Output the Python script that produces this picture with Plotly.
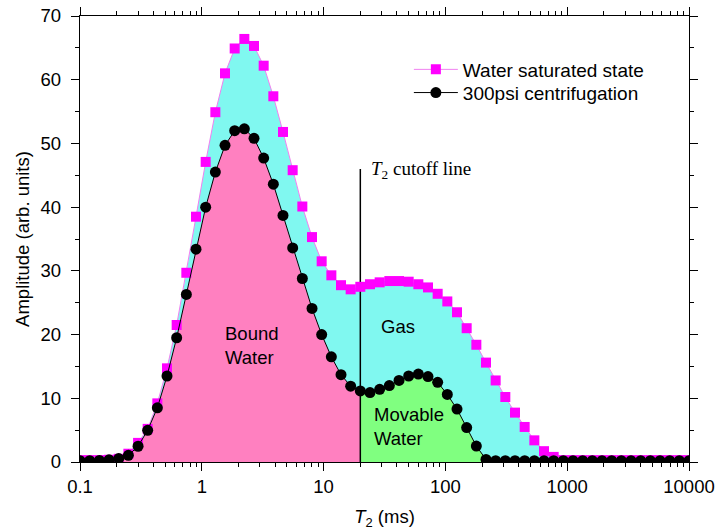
import plotly.graph_objects as go
import math

# T2 relaxation bins (ms), 64 log-spaced bins
t2_ms = [0.1, 0.1201, 0.1442, 0.1731, 0.2079, 0.2496, 0.2997, 0.3594, 0.4315, 0.5180,
         0.6217, 0.7465, 0.8963, 1.076, 1.292, 1.551, 1.862, 2.235, 2.683, 3.221,
         3.866, 4.642, 5.573, 6.691, 8.033, 9.641, 11.58, 13.90, 16.68, 20.02,
         24.04, 28.86, 34.65, 41.60, 49.94, 59.95, 71.97, 86.41, 103.7, 124.5,
         149.5, 179.5, 215.4, 258.6, 310.5, 372.8, 447.5, 537.4, 645.2, 774.3,
         929.5, 1116, 1340, 1608, 1931, 2318, 2783, 3341, 4011, 4815,
         5780, 6939, 8329, 10000]

# Water saturated state amplitude
saturated = [0.3, 0.3, 0.3, 0.35, 0.5, 1.3, 3.0, 5.2, 9.2, 14.7,
             21.5, 29.7, 38.5, 47.1, 54.9, 61.0, 64.9, 66.4, 65.3, 62.2,
             57.4, 51.8, 45.8, 40.1, 35.3, 31.5, 29.3, 27.75, 27.1, 27.5,
             27.9, 28.2, 28.4, 28.4, 28.3, 27.9, 27.4, 26.4, 25.2, 23.5,
             21.0, 18.4, 15.6, 12.8, 10.2, 7.75, 5.5, 3.4, 1.7, 0.8,
             0.3, 0.3, 0.3, 0.3, 0.3, 0.3, 0.3, 0.3, 0.3, 0.3,
             0.3, 0.3, 0.3, 0.3]

# 300psi centrifugation amplitude
centrifuged = [0.2, 0.2, 0.25, 0.35, 0.53, 1.05, 2.47, 4.98, 8.5, 13.5,
               19.5, 26.3, 33.4, 40.0, 45.5, 49.7, 52.0, 52.3, 50.8, 47.7,
               43.6, 38.7, 33.6, 28.8, 24.1, 20.0, 16.5, 13.7, 11.9, 11.15,
               10.9, 11.4, 12.0, 12.8, 13.5, 13.8, 13.4, 12.5, 10.6, 8.3,
               5.4, 2.5, 0.4, 0.2, 0.2, 0.2, 0.2, 0.2, 0.2, 0.2,
               0.2, 0.2, 0.2, 0.2, 0.2, 0.2, 0.2, 0.2, 0.2, 0.2,
               0.2, 0.2, 0.2, 0.2]

T2_CUTOFF = 20.02
CUTOFF_TOP = 46
cut_idx = t2_ms.index(T2_CUTOFF)

FONT = "Liberation Sans, Arial, sans-serif"
SERIF = "Liberation Serif, Times New Roman, serif"

fig = go.Figure()

# Gas region (cyan) under saturated curve
fig.add_trace(go.Scatter(x=t2_ms, y=saturated, mode="none", fill="tozeroy",
                         fillcolor="#80F8F0", showlegend=False, hoverinfo="skip"))
# Bound water (pink) under centrifuged curve, left of cutoff
fig.add_trace(go.Scatter(x=t2_ms[:cut_idx + 1], y=centrifuged[:cut_idx + 1], mode="none",
                         fill="tozeroy", fillcolor="#FF80C0", showlegend=False, hoverinfo="skip"))
# Movable water (green) under centrifuged curve, right of cutoff
fig.add_trace(go.Scatter(x=t2_ms[cut_idx:], y=centrifuged[cut_idx:], mode="none",
                         fill="tozeroy", fillcolor="#80FF80", showlegend=False, hoverinfo="skip"))

# Cutoff line
fig.add_trace(go.Scatter(x=[T2_CUTOFF, T2_CUTOFF], y=[0, CUTOFF_TOP], mode="lines",
                         line=dict(color="black", width=1.5), showlegend=False, hoverinfo="skip"))

fig.add_trace(go.Scatter(x=t2_ms, y=saturated, mode="lines+markers",
                         name="Water saturated state", legend="legend",
                         line=dict(color="#F080F0", width=1),
                         marker=dict(symbol="square", size=10, color="#FF00FF")))
fig.add_trace(go.Scatter(x=t2_ms, y=centrifuged, mode="lines+markers",
                         name="300psi centrifugation", legend="legend2",
                         line=dict(color="black", width=1),
                         marker=dict(symbol="circle", size=11, color="black")))

ann_font = dict(family=FONT, size=18.5, color="black")
fig.add_annotation(x=math.log10(1.49), y=18.3, text="Bound<br>Water", showarrow=False,
                   xanchor="left", yanchor="middle", align="left", font=ann_font)
fig.add_annotation(x=math.log10(40.5), y=21.2, text="Gas", showarrow=False,
                   xanchor="center", yanchor="middle", font=ann_font)
fig.add_annotation(x=math.log10(25.2), y=5.6, text="Movable<br>Water", showarrow=False,
                   xanchor="left", yanchor="middle", align="left", font=ann_font)
fig.add_annotation(x=math.log10(23.7), y=45.8, text="<i>T</i><sub>2</sub> cutoff line",
                   showarrow=False, xanchor="left", yanchor="middle",
                   font=dict(family=SERIF, size=19, color="black"))

legend_common = dict(xanchor="left", yanchor="middle", bgcolor="rgba(0,0,0,0)",
                     font=dict(family=FONT, size=19), itemwidth=44)

fig.update_layout(
    width=718, height=532,
    margin=dict(l=80, r=29, t=16, b=70),
    paper_bgcolor="white", plot_bgcolor="white",
    font=dict(family=FONT, size=18.5, color="black"),
    showlegend=True,
    legend=dict(x=0.54, y=0.880, **legend_common),
    legend2=dict(x=0.54, y=0.828, **legend_common),
)

fig.update_xaxes(type="log", range=[-1, 4], automargin=False,
                 tickvals=[0.1, 1, 10, 100, 1000, 10000],
                 ticktext=["0.1", "1", "10", "100", "1000", "10000"],
                 ticks="outside", ticklen=8, tickwidth=1.3, tickcolor="black",
                 minor=dict(ticks="outside", ticklen=4, tickwidth=1, tickcolor="black",
                            dtick="D1", showgrid=False),
                 showline=True, linewidth=1.3, linecolor="black", mirror="ticks",
                 showgrid=False, zeroline=False,
                 title=dict(text="<i>T</i><sub>2</sub> (ms)", font=dict(family=FONT, size=18.5),
                            standoff=13))
fig.update_yaxes(range=[0, 70], dtick=10, automargin=False,
                 ticks="outside", ticklen=8, tickwidth=1.3, tickcolor="black",
                 ticklabelstandoff=6,
                 minor=dict(ticks="outside", ticklen=4, tickwidth=1, tickcolor="black",
                            dtick=5, showgrid=False),
                 showline=True, linewidth=1.3, linecolor="black", mirror="ticks",
                 showgrid=False, zeroline=False,
                 title=dict(text="Amplitude (arb. units)", font=dict(family=FONT, size=18.5),
                            standoff=6))

# remove the default 8px page margin so the figure sits at the window's top-left corner
fig.write_html("out.html", config={"displayModeBar": False},
               post_script="document.body.style.margin='0px';")
